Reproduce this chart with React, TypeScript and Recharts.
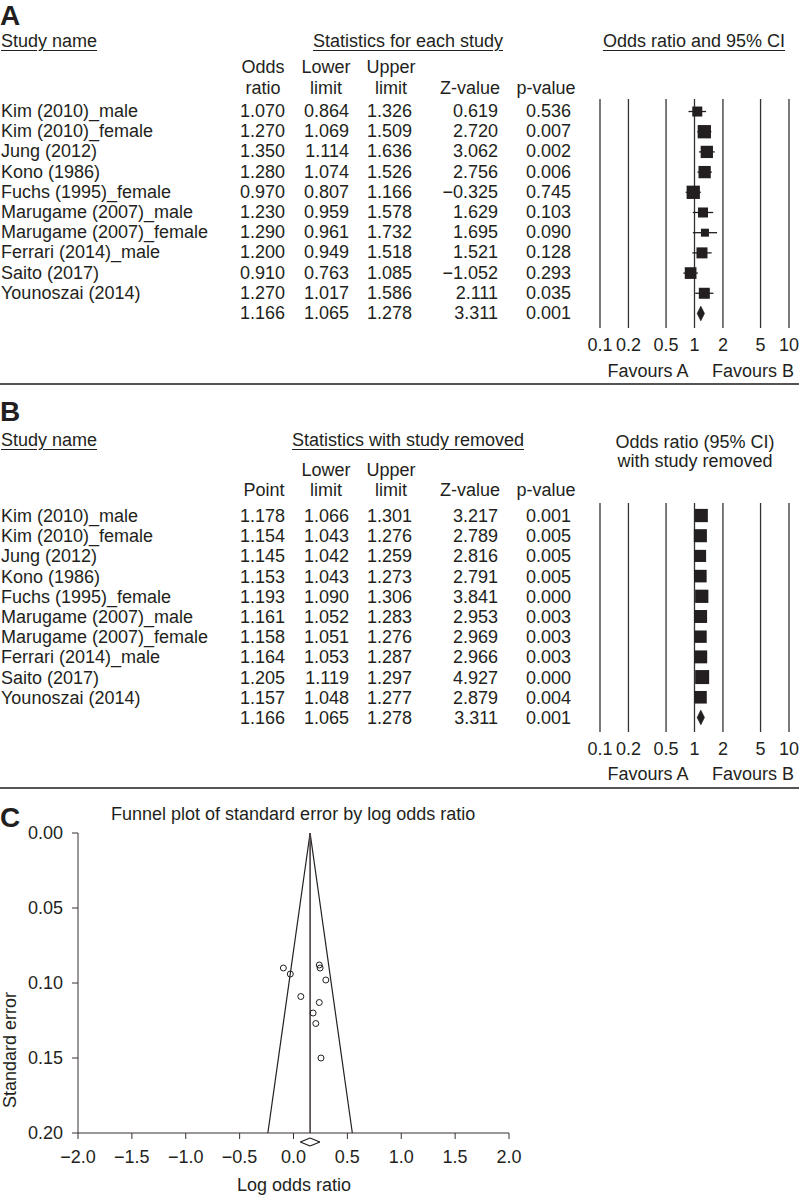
import React from "react";
import { ComposedChart, Scatter, XAxis, YAxis, ZAxis, ReferenceLine } from "recharts";

const INK = "#231f20";
const FONT = '"Liberation Sans", Arial, sans-serif';

const studies = [
  "Kim (2010)_male",
  "Kim (2010)_female",
  "Jung (2012)",
  "Kono (1986)",
  "Fuchs (1995)_female",
  "Marugame (2007)_male",
  "Marugame (2007)_female",
  "Ferrari (2014)_male",
  "Saito (2017)",
  "Younoszai (2014)",
];

// panel A: statistics for each study
const orA = [1.07, 1.27, 1.35, 1.28, 0.97, 1.23, 1.29, 1.2, 0.91, 1.27];
const lowerA = [0.864, 1.069, 1.114, 1.074, 0.807, 0.959, 0.961, 0.949, 0.763, 1.017];
const upperA = [1.326, 1.509, 1.636, 1.526, 1.166, 1.578, 1.732, 1.518, 1.085, 1.586];
const zA = [0.619, 2.72, 3.062, 2.756, -0.325, 1.629, 1.695, 1.521, -1.052, 2.111];
const pA = [0.536, 0.007, 0.002, 0.006, 0.745, 0.103, 0.09, 0.128, 0.293, 0.035];
const weightA = [7.7, 13.6, 11.6, 11.6, 13.6, 7.7, 4.9, 9.3, 10.5, 9.3];

// panel B: one study removed
const pointB = [1.178, 1.154, 1.145, 1.153, 1.193, 1.161, 1.158, 1.164, 1.205, 1.157];
const lowerB = [1.066, 1.043, 1.042, 1.043, 1.09, 1.052, 1.051, 1.053, 1.119, 1.048];
const upperB = [1.301, 1.276, 1.259, 1.273, 1.306, 1.283, 1.276, 1.287, 1.297, 1.277];
const zB = [3.217, 2.789, 2.816, 2.791, 3.841, 2.953, 2.969, 2.966, 4.927, 2.879];
const pB = [0.001, 0.005, 0.005, 0.005, 0.0, 0.003, 0.003, 0.003, 0.0, 0.004];
const weightB = [10.3, 10.0, 8.6, 9.3, 10.3, 9.8, 9.0, 9.8, 11.5, 9.3];

// pooled: OR, lower, upper, Z, p
const pooled = [1.166, 1.065, 1.278, 3.311, 0.001];

const orTicks = [0.1, 0.2, 0.5, 1, 2, 5, 10];

// panel C: funnel plot
const logOR = [0.068, 0.239, 0.3, 0.247, -0.03, 0.207, 0.255, 0.182, -0.094, 0.239];
const stdErr = [0.109, 0.088, 0.098, 0.09, 0.094, 0.127, 0.15, 0.12, 0.09, 0.113];
const pooledLog = [0.063, 0.154, 0.245];
const funnelBase = [-0.238, 0.546];
const logTicks = [-2, -1.5, -1, -0.5, 0, 0.5, 1, 1.5, 2];
const seTicks = [0, 0.05, 0.1, 0.15, 0.2];

const ROW = 20.2;
const fmt = (v: number) => v.toFixed(3).replace("-", "\u2212");

function T({ x, y, children, align = "left", bold = false, size = 18, underline = false }: any) {
  const style: React.CSSProperties = {
    position: "absolute",
    top: y - 11,
    lineHeight: "22px",
    fontSize: size,
    fontWeight: bold ? 700 : 400,
    whiteSpace: "nowrap",
    color: INK,
    textDecoration: underline ? "underline" : "none",
    textUnderlineOffset: 3,
  };
  if (align === "left") style.left = x;
  else if (align === "right") style.right = 799 - x;
  else {
    style.left = x;
    style.transform = "translateX(-50%)";
  }
  return <div style={style}>{children}</div>;
}

const Square = (p: any) => {
  const s = p.size != null ? Math.sqrt(p.size) : p.width * 0.886;
  return <rect x={p.cx - s / 2} y={p.cy - s / 2} width={s} height={s} fill={INK} />;
};

const DiamondFill = (lp: any) => (
  <polygon
    points={lp.points.map((q: any) => `${q.x},${q.y}`).join(" ")}
    fill={INK}
    stroke={INK}
    strokeWidth={0.5}
  />
);

function Forest({ top, est, lower, upper, weight, wMax, areaMax }: any) {
  const n = est.length;
  const rows = est.map((v: number, i: number) => ({ x: v, y: i, w: weight[i] }));
  const diamond = [
    { x: pooled[1], y: n },
    { x: pooled[0], y: n - 0.37 },
    { x: pooled[2], y: n },
    { x: pooled[0], y: n + 0.37 },
  ];
  return (
    <div style={{ position: "absolute", left: 580, top }}>
      <ComposedChart width={219} height={269} margin={{ top: 10, right: 10, bottom: 0, left: 20 }}>
        <XAxis
          type="number"
          dataKey="x"
          scale="log"
          domain={[0.1, 10]}
          ticks={orTicks}
          interval={0}
          axisLine={false}
          tickLine={false}
          tickMargin={4}
          height={30}
          tick={{ fontSize: 18, fill: INK }}
          tickFormatter={(v: number) => String(v)}
        />
        <YAxis type="number" dataKey="y" domain={[-0.62, 10.72]} reversed hide />
        <ZAxis type="number" dataKey="w" domain={[0, wMax]} range={[0, areaMax]} />
        {orTicks.map((t) => (
          <ReferenceLine key={t} x={t} stroke="#333" strokeWidth={1.3} />
        ))}
        {est.map((_: number, i: number) => (
          <ReferenceLine
            key={"ci" + i}
            segment={[
              { x: lower[i], y: i },
              { x: upper[i], y: i },
            ]}
            stroke={INK}
            strokeWidth={1.3}
          />
        ))}
        <Scatter data={rows} shape={Square} isAnimationActive={false} />
        <Scatter
          data={diamond}
          shape={() => <g />}
          line={DiamondFill}
          lineType="joint"
          isAnimationActive={false}
        />
      </ComposedChart>
    </div>
  );
}

function Table({ rowTop, est, lower, upper, z, p }: any) {
  const cols = [285, 349, 412, 498, 571];
  const out: any[] = [];
  studies.forEach((name, i) => {
    const y = rowTop + i * ROW;
    out.push(<T key={"n" + i} x={1} y={y}>{name}</T>);
    [est[i], lower[i], upper[i], z[i], p[i]].forEach((v, j) => {
      out.push(
        <T key={`v${i}-${j}`} x={cols[j]} y={y} align="right">
          {fmt(v)}
        </T>
      );
    });
  });
  const y = rowTop + studies.length * ROW;
  pooled.forEach((v, j) => {
    out.push(
      <T key={"s" + j} x={cols[j]} y={y} align="right">
        {fmt(v)}
      </T>
    );
  });
  return <>{out}</>;
}

const Dot = (p: any) => <circle cx={p.cx} cy={p.cy} r={3} fill="none" stroke={INK} strokeWidth={1} />;

export default function App() {
  const funnelPts = logOR.map((v, i) => ({ x: v, y: stdErr[i] }));
  const dTop = 0.2 + 0.0033;
  const dMid = 0.2 + 0.006;
  const dBot = 0.2 + 0.0087;
  return (
    <div
      style={{
        position: "absolute",
        left: 0,
        top: 0,
        width: 799,
        height: 1195,
        overflow: "hidden",
        background: "#fff",
        fontFamily: FONT,
        color: INK,
      }}
    >
      {/* Panel A */}
      <T x={0} y={16} bold size={28}>A</T>
      <T x={1} y={41} underline>Study name</T>
      <T x={408} y={41} align="center" underline>Statistics for each study</T>
      <T x={694} y={41} align="center" underline>Odds ratio and 95% CI</T>
      <T x={263} y={67} align="center">Odds</T>
      <T x={263} y={88} align="center">ratio</T>
      <T x={326} y={67} align="center">Lower</T>
      <T x={326} y={88} align="center">limit</T>
      <T x={391} y={67} align="center">Upper</T>
      <T x={391} y={88} align="center">limit</T>
      <T x={470} y={88} align="center">Z-value</T>
      <T x={546} y={88} align="center">p-value</T>
      <Table rowTop={111} est={orA} lower={lowerA} upper={upperA} z={zA} p={pA} />
      <Forest top={89} est={orA} lower={lowerA} upper={upperA} weight={weightA} wMax={13.6} areaMax={177} />
      <T x={648} y={371} align="center">Favours A</T>
      <T x={753} y={371} align="center">Favours B</T>
      <div style={{ position: "absolute", left: 0, top: 383, width: 799, height: 2, background: "#555" }} />

      {/* Panel B */}
      <T x={0} y={412} bold size={28}>B</T>
      <T x={1} y={440} underline>Study name</T>
      <T x={408} y={440} align="center" underline>Statistics with study removed</T>
      <T x={695} y={442} align="center">Odds ratio (95% CI)</T>
      <T x={695} y={461} align="center">with study removed</T>
      <T x={326} y={470} align="center">Lower</T>
      <T x={391} y={470} align="center">Upper</T>
      <T x={264} y={490} align="center">Point</T>
      <T x={326} y={490} align="center">limit</T>
      <T x={391} y={490} align="center">limit</T>
      <T x={470} y={490} align="center">Z-value</T>
      <T x={546} y={490} align="center">p-value</T>
      <Table rowTop={516} est={pointB} lower={lowerB} upper={upperB} z={zB} p={pB} />
      <Forest top={493} est={pointB} lower={lowerB} upper={upperB} weight={weightB} wMax={11.5} areaMax={196} />
      <T x={648} y={774} align="center">Favours A</T>
      <T x={753} y={774} align="center">Favours B</T>
      <div style={{ position: "absolute", left: 0, top: 787, width: 799, height: 2, background: "#555" }} />

      {/* Panel C */}
      <T x={0} y={818} bold size={28}>C</T>
      <T x={111} y={814}>Funnel plot of standard error by log odds ratio</T>
      <div
        style={{
          position: "absolute",
          left: 10,
          top: 1050,
          transform: "translate(-50%, -50%) rotate(-90deg)",
          fontSize: 18,
          whiteSpace: "nowrap",
        }}
      >
        Standard error
      </div>
      <T x={294} y={1185} align="center">Log odds ratio</T>
      <div style={{ position: "absolute", left: 0, top: 823 }}>
        <ComposedChart width={540} height={372} margin={{ top: 10, right: 31, bottom: 0, left: 0 }}>
          <XAxis
            type="number"
            dataKey="x"
            domain={[-2, 2]}
            ticks={logTicks}
            interval={0}
            height={62}
            stroke="#3a3030"
            tickSize={6}
            tickMargin={11}
            tick={{ fontSize: 18, fill: INK }}
            tickFormatter={(v: number) => v.toFixed(1).replace("-", "\u2212")}
          />
          <YAxis
            type="number"
            dataKey="y"
            domain={[0, 0.2]}
            reversed
            ticks={seTicks}
            interval={0}
            width={78}
            stroke="#3a3030"
            tickSize={6}
            tickMargin={9}
            tick={{ fontSize: 18, fill: INK }}
            tickFormatter={(v: number) => v.toFixed(2)}
          />
          <ReferenceLine
            segment={[
              { x: pooledLog[1], y: 0 },
              { x: funnelBase[0], y: 0.2 },
            ]}
            stroke={INK}
            strokeWidth={1.2}
          />
          <ReferenceLine
            segment={[
              { x: pooledLog[1], y: 0 },
              { x: funnelBase[1], y: 0.2 },
            ]}
            stroke={INK}
            strokeWidth={1.2}
          />
          <ReferenceLine
            segment={[
              { x: pooledLog[1], y: 0 },
              { x: pooledLog[1], y: 0.2 },
            ]}
            stroke="#4a4040"
            strokeWidth={1.6}
          />
          {[
            [pooledLog[0], dMid, pooledLog[1], dTop],
            [pooledLog[1], dTop, pooledLog[2], dMid],
            [pooledLog[2], dMid, pooledLog[1], dBot],
            [pooledLog[1], dBot, pooledLog[0], dMid],
          ].map((s, i) => (
            <ReferenceLine
              key={"d" + i}
              segment={[
                { x: s[0], y: s[1] },
                { x: s[2], y: s[3] },
              ]}
              ifOverflow="visible"
              stroke={INK}
              strokeWidth={1.2}
            />
          ))}
          <Scatter data={funnelPts} shape={Dot} isAnimationActive={false} />
        </ComposedChart>
      </div>
    </div>
  );
}
